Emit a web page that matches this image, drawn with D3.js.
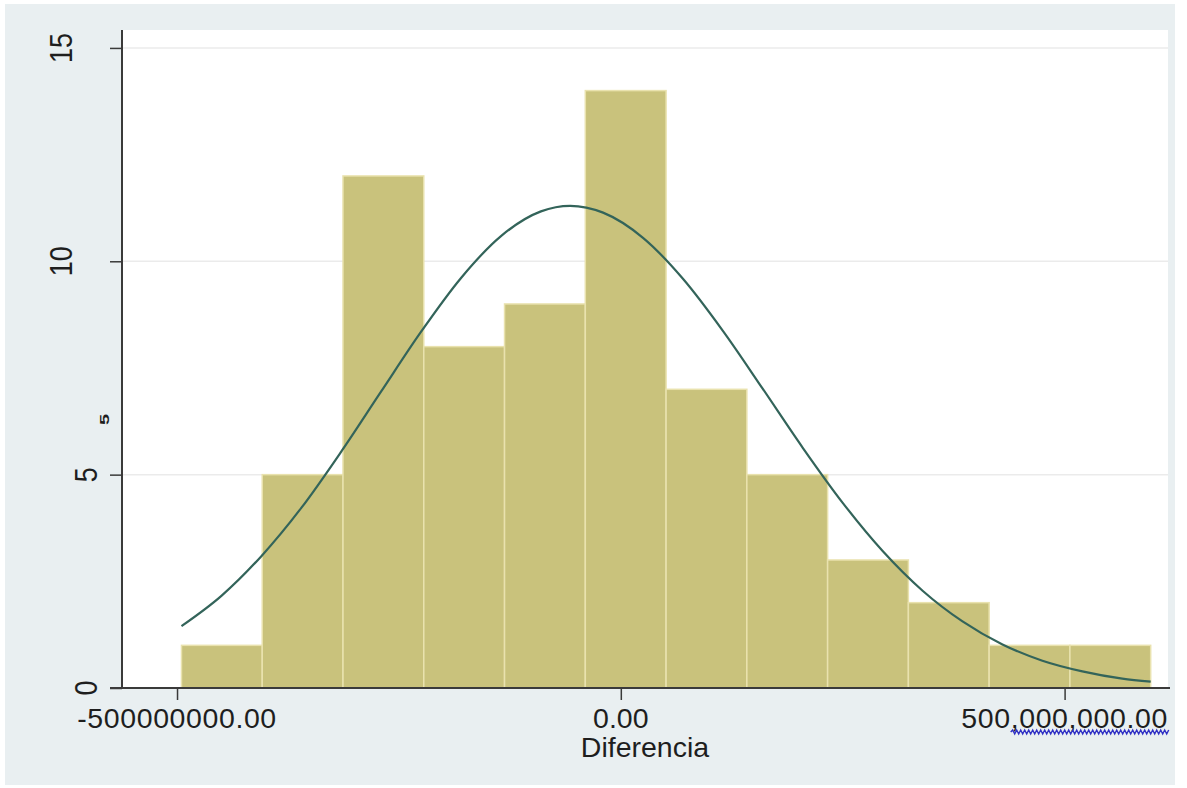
<!DOCTYPE html>
<html>
<head>
<meta charset="utf-8">
<script src="https://cdn.jsdelivr.net/npm/d3@7"></script>
<style>
  html, body { margin: 0; padding: 0; background: #ffffff; }
  svg { display: block; }
  text { font-family: "Liberation Sans", Arial, sans-serif; fill: #1e1e1e; }
</style>
</head>
<body>
<svg id="chart" width="1187" height="788"></svg>
<script>
// ---- data ----
// histogram bin edges (in units of Diferencia)
const binEdges = [-495e6, -404e6, -313e6, -222e6, -131e6, -40e6, 51e6, 142e6, 233e6, 324e6, 415e6, 506e6, 597e6];
// frequency per bin
const binCounts = [1, 5, 12, 8, 9, 14, 7, 5, 3, 2, 1, 1];
// normal-density overlay (x, frequency)
const curveX = [-495e6, -450e6, -405e6, -360e6, -315e6, -270e6, -225e6, -180e6, -135e6, -90e6, -57e6,
                -20e6, 25e6, 70e6, 115e6, 160e6, 205e6, 250e6, 295e6, 340e6, 385e6, 430e6, 475e6, 520e6, 565e6, 597e6];
const curveY = [1.45, 2.16, 3.09, 4.22, 5.54, 6.95, 8.35, 9.61, 10.59, 11.17, 11.30,
                11.14, 10.55, 9.59, 8.37, 7.01, 5.63, 4.34, 3.21, 2.28, 1.56, 1.02, 0.64, 0.39, 0.22, 0.15];
// axis ticks
const xTicks = [-500e6, 0, 500e6];
const xTickLabels = ["-500000000.00", "0.00", "500,000,000.00"];
const yTicks = [0, 5, 10, 15];
const yTickLabels = ["0", "5", "10", "15"];
const xTitle = "Diferencia";

// ---- drawing ----
const svg = d3.select("#chart");
const W = 1187, H = 788;
const plot = { left: 122, right: 1168, top: 30, bottom: 688 };

// outer background
svg.append("rect").attr("x", 0).attr("y", 0).attr("width", W).attr("height", H).attr("fill", "#ffffff");
svg.append("rect").attr("x", 5).attr("y", 4).attr("width", 1170).attr("height", 781).attr("fill", "#e9eff1");
// plot region
svg.append("rect").attr("x", plot.left).attr("y", plot.top)
  .attr("width", plot.right - plot.left).attr("height", plot.bottom - plot.top).attr("fill", "#ffffff");

const x = d3.scaleLinear().domain([-562e6, 616.5e6]).range([plot.left, plot.right]);
const y = d3.scaleLinear().domain([0, 15.42]).range([plot.bottom, plot.top]);

// gridlines
svg.append("g").selectAll("line").data(yTicks.filter(d => d > 0)).join("line")
  .attr("x1", plot.left).attr("x2", plot.right)
  .attr("y1", d => y(d)).attr("y2", d => y(d))
  .attr("stroke", "#ebebeb").attr("stroke-width", 1.5);

// bars
const bins = binCounts.map((c, i) => ({ x0: binEdges[i], x1: binEdges[i + 1], n: c }));
svg.append("g").selectAll("rect").data(bins).join("rect")
  .attr("x", d => x(d.x0))
  .attr("y", d => y(d.n))
  .attr("width", d => x(d.x1) - x(d.x0))
  .attr("height", d => y(0) - y(d.n))
  .attr("fill", "#c9c27c")
  .attr("stroke", "#e9e2ae")
  .attr("stroke-width", 1.5);

// normal curve
const curvePts = curveX.map((v, i) => [v, curveY[i]]);
svg.append("path")
  .datum(curvePts)
  .attr("fill", "none")
  .attr("stroke", "#33645a")
  .attr("stroke-width", 2.2)
  .attr("d", d3.line().x(d => x(d[0])).y(d => y(d[1])).curve(d3.curveMonotoneX));

// y axis
const yAxis = d3.axisLeft(y).tickValues(yTicks).tickSize(12).tickFormat("");
const gy = svg.append("g").attr("transform", `translate(${plot.left},0)`).call(yAxis);
gy.select(".domain").attr("stroke", "#3a3a3a").attr("stroke-width", 2)
  .attr("d", `M0,${plot.top}V${plot.bottom}`);
gy.selectAll(".tick line").attr("stroke", "#3a3a3a").attr("stroke-width", 1.5);

// y tick labels (rotated)
svg.append("g").selectAll("text").data(yTicks).join("text")
  .attr("transform", (d, i) => {
    const bx = yTickLabels[i].length > 1 ? 72 : 97;
    return `translate(${bx},${y(d)}) scale(1.18,1) rotate(-90)`;
  })
  .attr("text-anchor", "middle")
  .attr("font-size", 27)
  .text((d, i) => yTickLabels[i]);

// small stray glyph left of the axis
svg.append("text")
  .attr("transform", `translate(108.5,419.5) scale(0.85,1.25) rotate(-90)`)
  .attr("text-anchor", "middle")
  .attr("font-size", 16)
  .attr("font-weight", "bold")
  .text("5");

// x axis
const xAxis = d3.axisBottom(x).tickValues(xTicks).tickSize(12).tickFormat("");
const gx = svg.append("g").attr("transform", `translate(0,${plot.bottom})`).call(xAxis);
gx.select(".domain").attr("stroke", "#3a3a3a").attr("stroke-width", 2)
  .attr("d", `M110,0H${plot.right + 2}`);
gx.selectAll(".tick line").attr("stroke", "#3a3a3a").attr("stroke-width", 1.5);

const xl = svg.append("g").selectAll("text").data(xTicks).join("text")
  .attr("x", d => x(d))
  .attr("y", 728)
  .attr("text-anchor", "middle")
  .attr("font-size", 28.5)
  .attr("letter-spacing", (d, i) => xTickLabels[i].length > 5 ? "0.6px" : "0px")
  .text((d, i) => xTickLabels[i]);

// spell-check style wavy underline under the last tick label
const lastLabel = xl.filter((d, i) => i === xTicks.length - 1).node();
if (lastLabel) {
  const bb = lastLabel.getBBox();
  const x0 = bb.x + lastLabel.getSubStringLength(0, 3);
  const x1 = bb.x + bb.width + 1;
  let p = `M${x0},732`;
  let k = 0;
  for (let xx = x0 + 2; xx <= x1; xx += 2) { k++; p += `L${xx},${k % 2 ? 730 : 734}`; }
  svg.append("path").attr("d", p).attr("fill", "none").attr("stroke", "#2f2fc4").attr("stroke-width", 1.4);
}

// x title
svg.append("text")
  .attr("x", (plot.left + plot.right) / 2)
  .attr("y", 757)
  .attr("text-anchor", "middle")
  .attr("font-size", 28.5)
  .text(xTitle);
</script>
</body>
</html>
